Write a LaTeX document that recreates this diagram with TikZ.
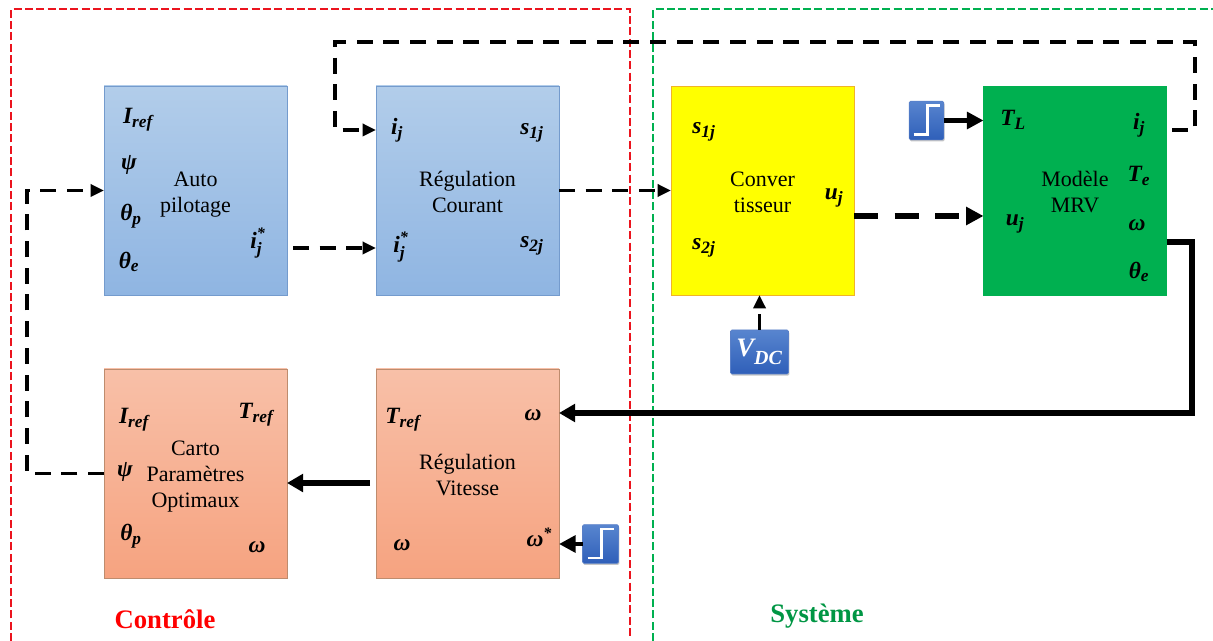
\documentclass[tikz,border=0pt]{standalone}
\usepackage{fontspec}
\setmainfont{Liberation Serif}
\usetikzlibrary{arrows.meta,shadows,calc}
\definecolor{bluetop}{RGB}{178,205,234}
\definecolor{bluebot}{RGB}{143,181,226}
\definecolor{bluebd}{RGB}{116,155,205}
\definecolor{ortop}{RGB}{248,192,168}
\definecolor{orbot}{RGB}{246,163,128}
\definecolor{orbd}{RGB}{190,140,110}
\definecolor{stept}{RGB}{88,133,207}
\definecolor{stepb}{RGB}{47,95,185}
\definecolor{mgreen}{RGB}{0,176,80}
\definecolor{ygbd}{RGB}{240,180,40}
\definecolor{pureyellow}{RGB}{255,255,0}
\definecolor{frgreen}{RGB}{0,176,80}
\definecolor{frred}{RGB}{235,20,30}
\newcommand{\bi}{\bfseries\itshape}
\newcommand{\sbx}[1]{\mbox{\fontsize{13}{13}\selectfont\bi #1}}
\newcommand{\vv}[2]{$\mbox{\bi #1}_{\sbx{#2}}$}
\newcommand{\vs}[2]{$\mbox{\bi #1}^{\mbox{\fontsize{12}{12}\selectfont *}}_{\sbx{#2}}$}
\tikzset{
  x=0.75pt,y=-0.75pt,
  blockb/.style={draw,rectangle,minimum width=137.25pt,minimum height=156.75pt,outer sep=0pt,inner sep=0pt,align=center,font=\fontsize{16.5}{19.5}\selectfont,line width=0.6pt},
  blue block/.style={blockb,draw=bluebd,top color=bluetop,bottom color=bluebot},
  or block/.style={blockb,draw=orbd,top color=ortop,bottom color=orbot},
  ylw block/.style={blockb,draw=ygbd,fill=pureyellow},
  grn block/.style={blockb,draw=mgreen,fill=mgreen},
  blocktext/.style={inner sep=0pt,align=center,font=\fontsize{16.5}{19.5}\selectfont},
  lab/.style={inner sep=0pt,font=\fontsize{17.5}{20}\selectfont\bi},
  stepbox/.style={draw=stepb!80!white,line width=0.4pt,rounded corners=1pt,top color=stept,bottom color=stepb,drop shadow={shadow xshift=0.6pt,shadow yshift=-1.2pt,opacity=0.45},inner sep=0pt,outer sep=0pt},
  dcon/.style={draw=black,line width=2.8pt,dash pattern=on 12pt off 8pt,-{Triangle[length=10pt,width=9pt]}},
  dconb/.style={draw=black,line width=4.4pt,dash pattern=on 18pt off 12.5pt,-{Triangle[length=13pt,width=13pt]}},
  scon/.style={draw=black,line width=3.7pt,-{Triangle[length=12.5pt,width=12.5pt]}},
  sconb/.style={draw=black,line width=4.4pt,-{Triangle[length=12pt,width=13pt]}},
  frame/.style={line width=0.9pt,dash pattern=on 6pt off 2.5pt}
}
\begin{document}
\begin{tikzpicture}
\useasboundingbox (0,0) rectangle (1213,641);
% frames
\draw[frame,frred] (11,641) -- (11,9) -- (630,9) -- (630,638);
\draw[frame,frgreen] (653,641) -- (653,9) -- (1213,9);
% blocks
\node[blue block] (auto) at (195.5,190.5) {};
\node[blue block] (regc) at (467.5,190.5) {};
\node[ylw block] (conv) at (762.5,190.5) {};
\node[grn block] (mrv) at (1075,190.5) {};
\node[or block] (carto) at (195.5,473.5) {};
\node[or block] (regv) at (467.5,473.5) {};
\node[blocktext] (tauto) at (195.5,194.5) {Auto\\pilotage};
\node[blocktext] (tregc) at (467.5,191.5) {Régulation\\Courant};
\node[blocktext] (tconv) at (762.5,192.5) {Conver\\tisseur};
\node[blocktext] (tmrv) at (1075,192.5) {Modèle\\MRV};
\node[blocktext] (tcarto) at (195.5,477) {Carto\\Paramètres\\Optimaux};
\node[blocktext] (tregv) at (467.5,475) {Régulation\\Vitesse};
% step icons
\node[stepbox,minimum width=26pt,minimum height=29pt] (st1) at (926.5,120.5) {};
\draw[white,line width=1.6pt] ($(st1.center)+(-13,14)$) -- ++(14,0) -- ++(0,-29) -- ++(12,0);
\node[stepbox,minimum width=27pt,minimum height=29pt] (st2) at (600.5,544) {};
\draw[white,line width=1.6pt] ($(st2.center)+(-13,14)$) -- ++(14,0) -- ++(0,-29) -- ++(12,0);
\node[stepbox,minimum width=43.5pt,minimum height=33pt,text=white,font=\fontsize{20}{22}\selectfont\bi] (vdc) at (759.5,352) {$\mbox{V}_{\raisebox{-3pt}{\fontsize{15}{15}\selectfont\bi DC}}$};
% labels
\node[lab] (a1) at (138,120) {\vv{I}{ref}};
\node[lab] (a2) at (129,165) {ψ};
\node[lab] (a3) at (131,216) {\vv{θ}{p}};
\node[lab] (a4) at (129,262) {\vv{θ}{e}};
\node[lab] (a5) at (258,243) {\vs{i}{j}};
\node[lab] (r1) at (397,130) {\vv{i}{j}};
\node[lab] (r2) at (532,133) {\vv{s}{1j}};
\node[lab] (r3) at (401,247) {\vs{i}{j}};
\node[lab] (r4) at (532,246) {\vv{s}{2j}};
\node[lab] (c1) at (704,132) {\vv{s}{1j}};
\node[lab] (c2) at (704,248) {\vv{s}{2j}};
\node[lab] (c3) at (834,198) {\vv{u}{j}};
\node[lab] (m1) at (1013,120) {\vv{T}{L}};
\node[lab] (m2) at (1015,224) {\vv{u}{j}};
\node[lab] (m3) at (1139,125) {\vv{i}{j}};
\node[lab] (m4) at (1139,176) {\vv{T}{e}};
\node[lab] (m5) at (1137,225) {ω};
\node[lab] (m6) at (1139,272) {\vv{θ}{e}};
\node[lab] (k1) at (134,420) {\vv{I}{ref}};
\node[lab] (k2) at (256,415) {\vv{T}{ref}};
\node[lab] (k3) at (125,472) {ψ};
\node[lab] (k4) at (131,536) {\vv{θ}{p}};
\node[lab] (k5) at (257,547) {ω};
\node[lab] (v1) at (403,420) {\vv{T}{ref}};
\node[lab] (v2) at (533,415) {ω};
\node[lab] (v3) at (402,545) {ω};
\node[lab] (v4) at (535,537) {ω\rlap{\raisebox{6pt}{\fontsize{12}{12}\selectfont *}}};
\node[font=\fontsize{20}{24}\selectfont\bfseries,text=red,inner sep=0pt] (ctl) at (165,619) {Contrôle};
\node[font=\fontsize{20}{24}\selectfont\bfseries,text=mgreen!85!black,inner sep=0pt] (sys) at (817,616) {Système};
% free ends
\coordinate (e1) at (293,248);
\coordinate (e2) at (1172,130);
\coordinate (e3) at (370,483);
% connectors
\draw[dcon] (e1) -- (e1 -| regc.west);
\draw[dcon] (regc.east) -- (conv.west);
\draw[dconb] (conv.east |- 0,216) -- (mrv.west |- 0,216);
\draw[scon] (st1.east) -- (st1.east -| mrv.west);
\draw[dcon] (vdc.north) -- (conv.south -| vdc.north);
\draw[dcon] (e2) -- ++(23,0) -- ++(0,-88) -- (335,42) -- (335,130) -- (r1.west -| regc.west);
\draw[sconb] (mrv.east |- 0,242) -- (1192,242) -- (1192,413) -- (regv.east |- 0,413);
\draw[sconb] (e3) -- (e3 -| carto.east);
\draw[scon] (st2.west) -- (st2.west -| regv.east);
\draw[dcon] (carto.west) -- ++(-77,0) |- (auto.west);
\end{tikzpicture}
\end{document}
